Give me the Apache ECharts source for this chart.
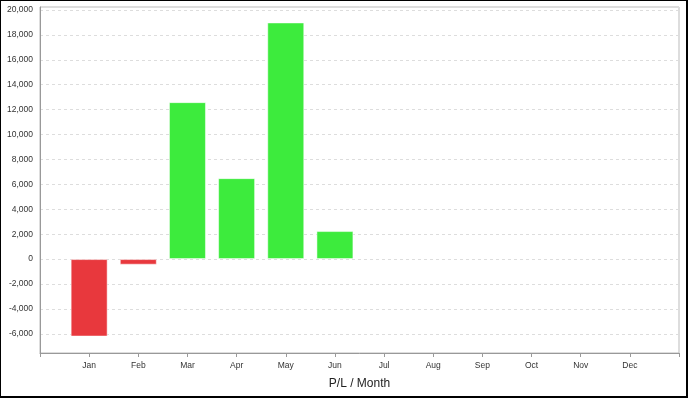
<!DOCTYPE html>
<html>
<head>
<meta charset="utf-8">
<script src="https://cdn.jsdelivr.net/npm/echarts@6/dist/echarts.min.js"></script>
<style>
html,body{margin:0;padding:0;background:#fff;}
#wrap{position:absolute;left:0;top:0;width:688px;height:398px;box-sizing:border-box;border-left:1px solid #000;border-top:1px solid #000;border-right:2px solid #000;border-bottom:2px solid #000;}
#chart{position:absolute;left:0;top:0;width:688px;height:398px;}
</style>
</head>
<body>
<div id="chart"></div>
<div id="wrap"></div>
<script>
const months = ['Jan','Feb','Mar','Apr','May','Jun','Jul','Aug','Sep','Oct','Nov','Dec'];
const plValues = [-6220, -450, 12600, 6500, 19000, 2250, null, null, null, null, null, null];
const yTicks = [-6000, -4000, -2000, 0, 2000, 4000, 6000, 8000, 10000, 12000, 14000, 16000, 18000, 20000];
const xAxisName = 'P/L / Month';

const cats = [''].concat(months, ['']);
const seriesData = [null].concat(plValues, [null]);

const chart = echarts.init(document.getElementById('chart'), null, {renderer:'canvas'});
chart.setOption({
  animation:false,
  backgroundColor:'#fff',
  grid:{left:40,right:9,top:7,bottom:45,show:true,borderColor:'#bbb',borderWidth:1,containLabel:false},
  xAxis:{
    type:'category',
    data:cats,
    boundaryGap:false,
    name:xAxisName,
    nameLocation:'middle',
    nameGap:25,
    nameTextStyle:{fontFamily:'Liberation Sans',fontSize:12,color:'#222'},
    axisLine:{onZero:false,lineStyle:{color:'#999'}},
    axisTick:{show:true,alignWithLabel:true,length:4,lineStyle:{color:'#999'},interval:0},
    axisLabel:{interval:0,fontFamily:'Liberation Sans',fontSize:8.5,color:'#333',margin:8},
    splitLine:{show:false}
  },
  yAxis:{
    type:'value',
    min:-7540,
    max:20240,
    splitNumber:14,
    axisLine:{show:true,lineStyle:{color:'#999'}},
    axisTick:{show:false},
    axisLabel:{fontFamily:'Liberation Sans',fontSize:8.5,color:'#333',margin:7,
      formatter:function(v){ return yTicks.indexOf(v) >= 0 ? v.toLocaleString('en-US') : ''; }},
    splitLine:{show:true,lineStyle:{color:'#ddd',type:[3,3],width:1}}
  },
  series:[{
    type:'bar',
    data:seriesData,
    barWidth:37,
    itemStyle:{
      color:function(p){ return p.value < 0 ? '#E8383D' : '#3DEB3D'; },
      borderWidth:1,
      borderColor:'rgba(255,255,255,0.5)'
    }
  }]
});
</script>
</body>
</html>
